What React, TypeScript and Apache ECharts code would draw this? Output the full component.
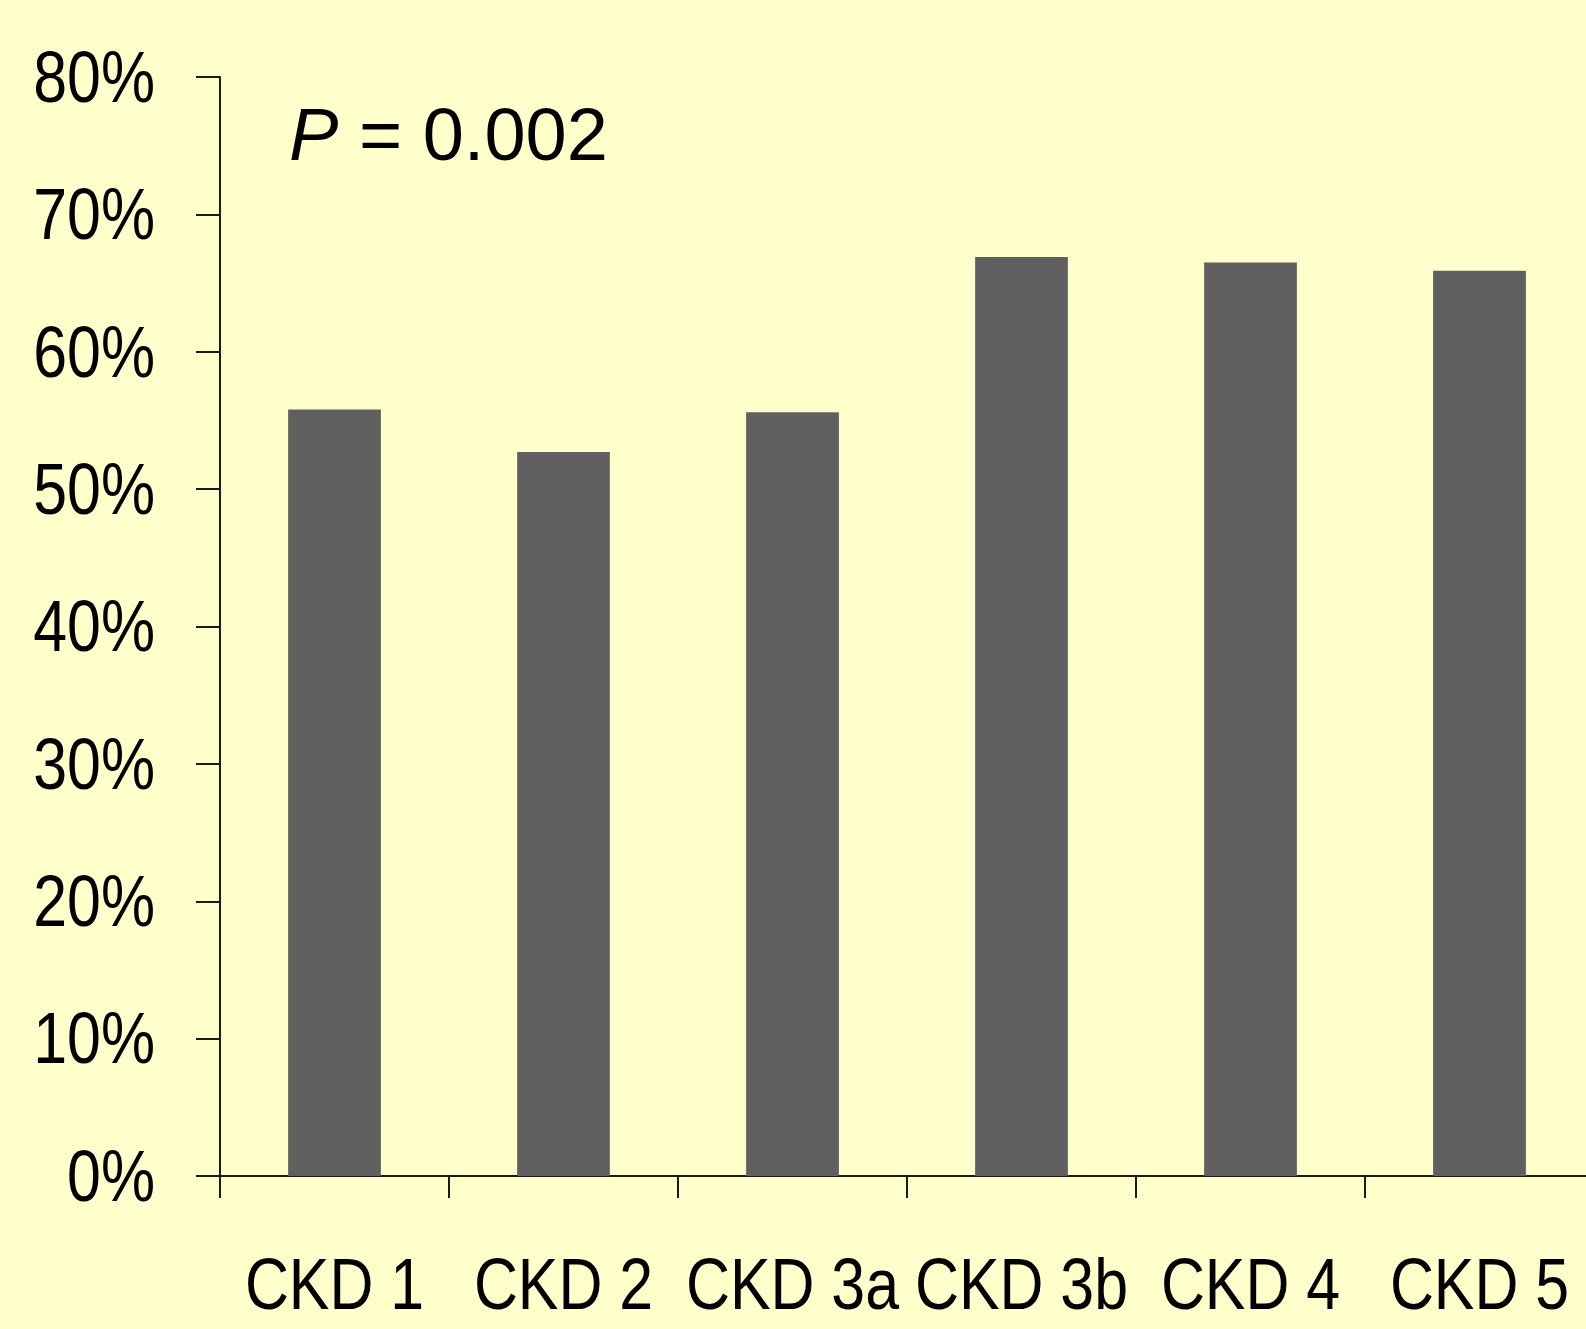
import React, { useEffect, useRef } from "react";
import * as echarts from "echarts";

const categories = ["CKD 1", "CKD 2", "CKD 3a", "CKD 3b", "CKD 4", "CKD 5"];
const values = [55.8, 52.7, 55.6, 66.9, 66.5, 65.9];
const yTickValues = [0, 10, 20, 30, 40, 50, 60, 70, 80];
const yTicks = { min: 0, max: 80, interval: 10 };
const annotation = { p: "P", rest: " = 0.002" };

const FONT = '"Liberation Sans", Arial, sans-serif';
const LABEL_SIZE = 72;
const LABEL_SCALE_X = 0.845;

export default function App() {
  const ref = useRef<HTMLDivElement>(null);
  useEffect(() => {
    document.body.style.margin = "0";
    if (!ref.current) return;
    const chart = echarts.init(ref.current, undefined, { renderer: "svg" });
    chart.setOption({
      animation: false,
      backgroundColor: "#FFFFCC",
      grid: {
        left: 220,
        top: 77,
        bottom: 153,
        width: 1374,
        containLabel: false,
        outerBoundsMode: "none",
      },
      xAxis: {
        type: "category",
        data: categories,
        axisLine: { lineStyle: { color: "#1a1a1a", width: 2 } },
        axisTick: { show: true, length: 22, lineStyle: { color: "#1a1a1a", width: 2 } },
        axisLabel: { show: false },
      },
      yAxis: {
        type: "value",
        min: yTicks.min,
        max: yTicks.max,
        interval: yTicks.interval,
        splitLine: { show: false },
        axisLine: { show: true, lineStyle: { color: "#1a1a1a", width: 2 } },
        axisTick: { show: true, length: 24, lineStyle: { color: "#1a1a1a", width: 2 } },
        axisLabel: { show: false },
      },
      series: [
        {
          type: "bar",
          data: values,
          barWidth: "40.5%",
          itemStyle: { color: "#606060" },
        },
      ],
    });

    const xLabelY = chart.convertToPixel({ yAxisIndex: 0 }, 0) + 108;
    const xLabels = categories.map((c, i) => ({
      type: "text",
      x: chart.convertToPixel({ xAxisIndex: 0 }, i),
      y: xLabelY,
      scaleX: LABEL_SCALE_X,
      style: {
        text: c,
        fontSize: LABEL_SIZE,
        fontFamily: FONT,
        fill: "#000",
        align: "center",
        verticalAlign: "middle",
      },
    }));
    const yLabels = yTickValues.map((v) => ({
      type: "text",
      x: 155,
      y: chart.convertToPixel({ yAxisIndex: 0 }, v),
      scaleX: LABEL_SCALE_X,
      style: {
        text: `${v}%`,
        fontSize: LABEL_SIZE,
        fontFamily: FONT,
        fill: "#000",
        align: "right",
        verticalAlign: "middle",
      },
    }));

    chart.setOption({
      graphic: [
        {
          type: "text",
          left: 289,
          top: 97,
          style: {
            text: `{p|${annotation.p}}{r|${annotation.rest}}`,
            rich: {
              p: { fontSize: 74, fontStyle: "italic", fontFamily: FONT, fill: "#000" },
              r: { fontSize: 74, fontFamily: FONT, fill: "#000" },
            },
          },
        },
        ...xLabels,
        ...yLabels,
      ],
    });
    return () => chart.dispose();
  }, []);
  return <div ref={ref} style={{ width: 1586, height: 1329 }} />;
}
